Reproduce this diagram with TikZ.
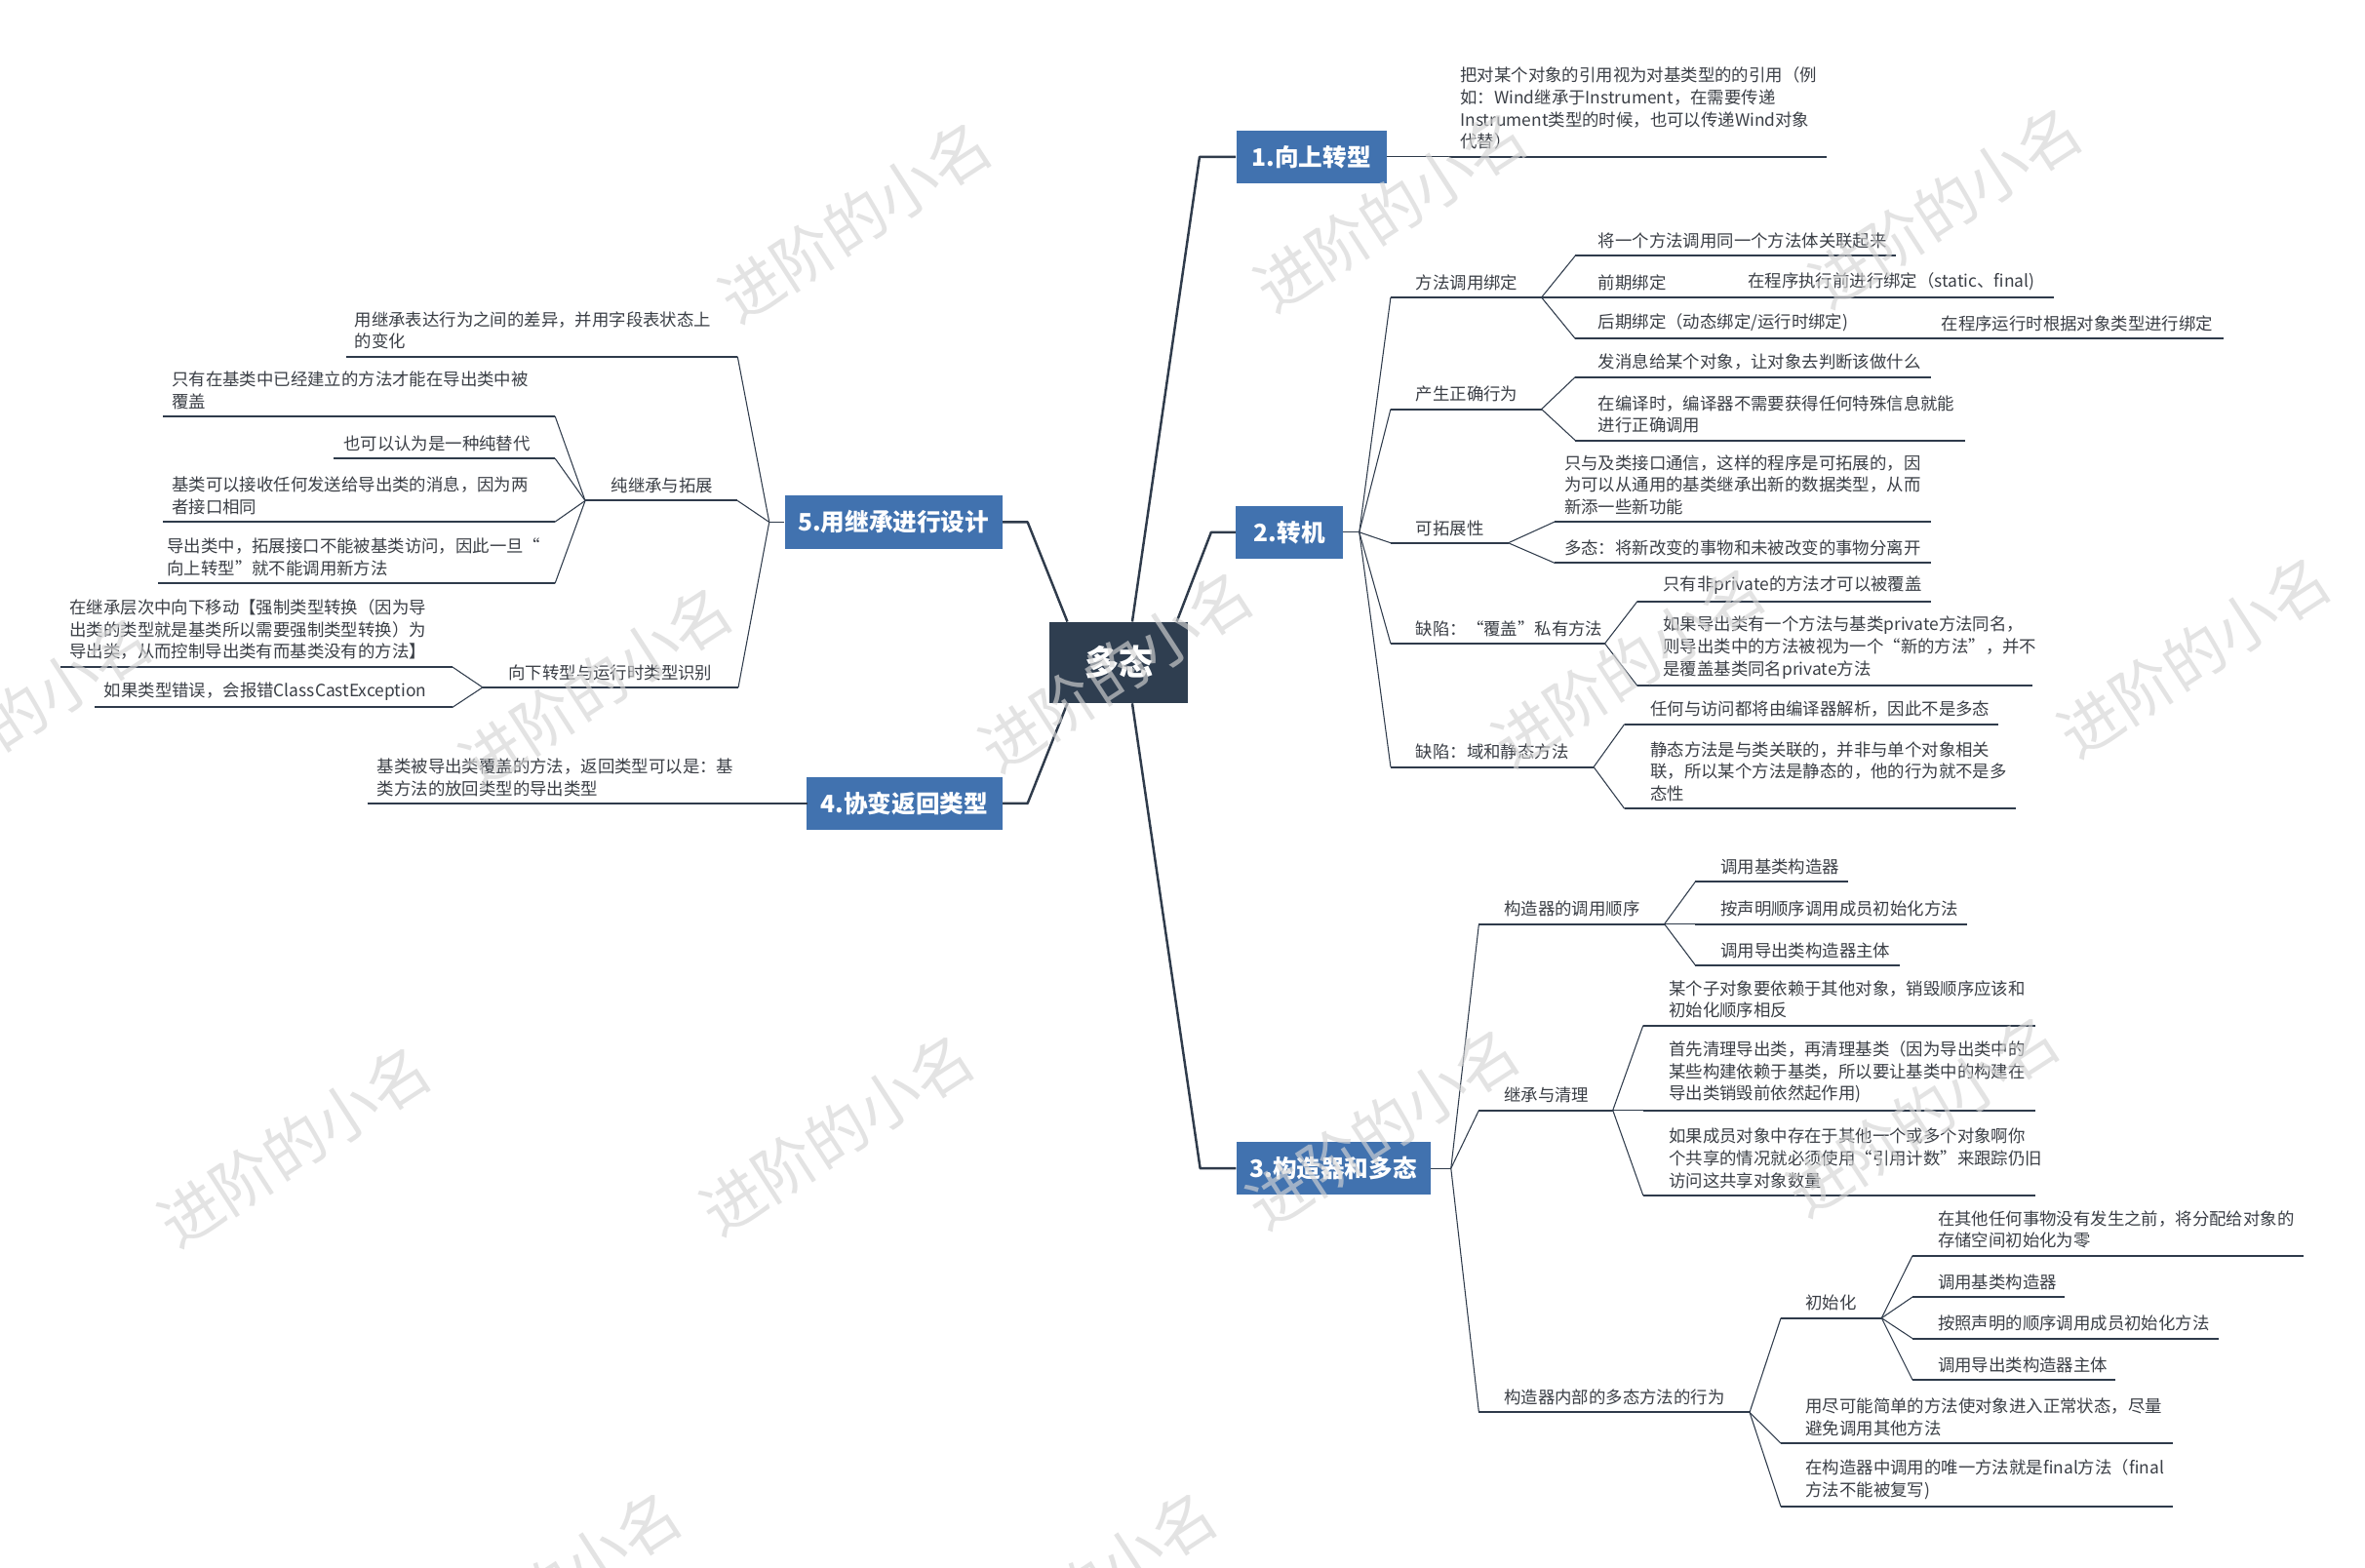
\documentclass[tikz,border=0pt]{standalone}
\usepackage{fontspec}
\setmainfont{Noto Sans CJK SC}
\usetikzlibrary{calc}
\definecolor{lnc}{HTML}{2F3B4B}
\definecolor{txc}{HTML}{3B3F46}
\definecolor{bluebox}{HTML}{4172AF}
\definecolor{darkbox}{HTML}{2F3E50}
\definecolor{wmc}{HTML}{D4D4D4}
\newcommand\mmleaf[6]{%
  \coordinate (#1s) at (#2,#4);
  \coordinate (#1e) at (#3,#4);
  \node[leaftext] (#1) at (#5,#4-4.5) {#6};
  \draw[uline] (#1s) -- (#1e);}
\tikzset{
  mainline/.style={draw=lnc, line width=1.4pt, line join=round},
  subline/.style={draw=lnc, line width=0.6pt, line join=round},
  uline/.style={draw=lnc, line width=1.1pt},
  leaftext/.style={font=\fontsize{9.9}{12.9}\selectfont, text=txc, align=left, inner sep=0pt, anchor=south west},
  rootbox/.style={fill=darkbox, text=white, font=\fontsize{20}{24}\selectfont\bfseries, inner sep=0pt, minimum width=2.846cm, minimum height=1.661cm},
  topicbox/.style={fill=bluebox, text=white, font=\fontsize{14}{16}\selectfont\bfseries, inner sep=0pt, minimum height=1.083cm},
  wm/.style={text=wmc, opacity=0.65, font=\fontsize{36}{36}\selectfont, rotate=33, inner sep=0pt}
}
\begin{document}
\begin{tikzpicture}[x=0.030932cm, y=-0.030932cm]
\fill[white] (0,0) rectangle (1568,1039.7);
\useasboundingbox (0,0) rectangle (1568,1039.7);

% root and main topics
\node[rootbox] (root) at (741.8,439.3) {多态};
\node[topicbox, minimum width=3.087cm] (b1) at (869.5,104) {1.向上转型};
\node[topicbox, minimum width=2.193cm] (b2) at (855,352.9) {2.转机};
\node[topicbox, minimum width=3.978cm] (b3) at (884,774.7) {3.构造器和多态};
\node[topicbox, minimum width=4.018cm] (b4) at (599.6,532.7) {4.协变返回类型};
\node[topicbox, minimum width=4.467cm] (b5) at (592.4,346.2) {5.用继承进行设计};

\coordinate (e1) at (795.3,104);
\coordinate (e2) at (803,352.9);
\coordinate (e3) at (795.7,774.7);
\coordinate (e4) at (681.3,532.7);
\coordinate (e5) at (681.3,346.2);
\draw[mainline] ($(root.north west)!0.596!(root.north east)$) -- (e1) -- (b1.west);
\draw[mainline] ($(root.north west)!0.915!(root.north east)$) -- (e2) -- (b2.west);
\draw[mainline] ($(root.south west)!0.596!(root.south east)$) -- (e3) -- (b3.west);
\draw[mainline] ($(root.south west)!0.131!(root.south east)$) -- (e4) -- (b4.east);
\draw[mainline] ($(root.north west)!0.131!(root.north east)$) -- (e5) -- (b5.east);

% ---------- branch 1
\mmleaf{r1}{961}{1211}{104}{968}{把对某个对象的引用视为对基类型的的引用（例\\如：Wind继承于Instrument，在需要传递\\Instrument类型的时候，也可以传递Wind对象\\代替）}
\draw[subline] (b1.east) -- (r1s);

% ---------- branch 2
\coordinate (a2) at (901.2,352.9);
\draw[subline] (b2.east) -- (a2);
\mmleaf{t21}{922}{1022}{197.2}{938.6}{方法调用绑定}
\mmleaf{t22}{922}{1022}{271.3}{938.6}{产生正确行为}
\mmleaf{t23}{922}{1000}{360}{938.6}{可拓展性}
\mmleaf{t24}{922}{1064}{426.7}{938.6}{缺陷：“覆盖”私有方法}
\mmleaf{t25}{922}{1056.6}{508.6}{938.6}{缺陷：域和静态方法}
\foreach \n in {t21,t22,t23,t24,t25} \draw[subline] (a2) -- (\n s);

\mmleaf{l211}{1044.4}{1257}{169.6}{1059.5}{将一个方法调用同一个方法体关联起来}
\mmleaf{l212}{1044.4}{1152}{197.2}{1059.5}{前期绑定}
\mmleaf{l2121}{1152}{1361.7}{197.2}{1158.7}{在程序执行前进行绑定（static、final)}
\mmleaf{l213}{1044.4}{1282}{224.6}{1059.5}{后期绑定（动态绑定/运行时绑定)}
\mmleaf{l2131}{1282}{1474}{224.6}{1287}{在程序运行时根据对象类型进行绑定}
\foreach \n in {l211,l212,l213} \draw[subline] (t21e) -- (\n s);

\mmleaf{l221}{1044.4}{1280}{250}{1059.5}{发消息给某个对象，让对象去判断该做什么}
\mmleaf{l222}{1044.4}{1303}{292}{1059.5}{在编译时，编译器不需要获得任何特殊信息就能\\进行正确调用}
\foreach \n in {l221,l222} \draw[subline] (t22e) -- (\n s);

\mmleaf{l231}{1030.7}{1280}{346}{1037}{只与及类接口通信，这样的程序是可拓展的，因\\为可以从通用的基类继承出新的数据类型，从而\\新添一些新功能}
\mmleaf{l232}{1030.7}{1280}{373.3}{1037}{多态：将新改变的事物和未被改变的事物分离开}
\foreach \n in {l231,l232} \draw[subline] (t23e) -- (\n s);

\mmleaf{l241}{1085.6}{1280}{398.7}{1102.5}{只有非private的方法才可以被覆盖}
\mmleaf{l242}{1085.6}{1347.6}{454.8}{1102.5}{如果导出类有一个方法与基类private方法同名，\\则导出类中的方法被视为一个“新的方法”，并不\\是覆盖基类同名private方法}
\foreach \n in {l241,l242} \draw[subline] (t24e) -- (\n s);

\mmleaf{l251}{1077}{1325}{480.2}{1094}{任何与访问都将由编译器解析，因此不是多态}
\mmleaf{l252}{1077}{1336.6}{536.2}{1094}{静态方法是与类关联的，并非与单个对象相关\\联，所以某个方法是静态的，他的行为就不是多\\态性}
\foreach \n in {l251,l252} \draw[subline] (t25e) -- (\n s);

% ---------- branch 3
\coordinate (a3) at (962,774.7);
\draw[subline] (b3.east) -- (a3);
\mmleaf{t31}{980.5}{1103.5}{612.7}{997}{构造器的调用顺序}
\mmleaf{t32}{980.5}{1069.3}{736.2}{997}{继承与清理}
\mmleaf{t33}{980.5}{1160}{936.5}{997}{构造器内部的多态方法的行为}
\foreach \n in {t31,t32,t33} \draw[subline] (a3) -- (\n s);

\mmleaf{l311}{1124}{1225}{584.7}{1140.6}{调用基类构造器}
\mmleaf{l312}{1124}{1304}{612.7}{1140.6}{按声明顺序调用成员初始化方法}
\mmleaf{l313}{1124}{1259.4}{640}{1140.6}{调用导出类构造器主体}
\foreach \n in {l311,l312,l313} \draw[subline] (t31e) -- (\n s);

\mmleaf{l321}{1089.4}{1349.2}{680}{1106.3}{某个子对象要依赖于其他对象，销毁顺序应该和\\初始化顺序相反}
\mmleaf{l322}{1089.4}{1349.2}{736.2}{1106.3}{首先清理导出类，再清理基类（因为导出类中的\\某些构建依赖于基类，所以要让基类中的构建在\\导出类销毁前依然起作用)}
\mmleaf{l323}{1089.4}{1349.2}{792.7}{1106.3}{如果成员对象中存在于其他一个或多个对象啊你\\个共享的情况就必须使用“引用计数”来跟踪仍旧\\访问这共享对象数量}
\foreach \n in {l321,l322,l323} \draw[subline] (t32e) -- (\n s);

\mmleaf{t331}{1180.7}{1247.5}{874}{1197}{初始化}
\mmleaf{l332}{1180.7}{1440.6}{957}{1197}{用尽可能简单的方法使对象进入正常状态，尽量\\避免调用其他方法}
\mmleaf{l333}{1180.7}{1440.6}{999}{1197}{在构造器中调用的唯一方法就是final方法（final\\方法不能被复写)}
\foreach \n in {t331,l332,l333} \draw[subline] (t33e) -- (\n s);

\mmleaf{l3311}{1268}{1527.3}{832.6}{1284.6}{在其他任何事物没有发生之前，将分配给对象的\\存储空间初始化为零}
\mmleaf{l3312}{1268}{1368.8}{860}{1284.6}{调用基类构造器}
\mmleaf{l3313}{1268}{1471}{887.5}{1284.6}{按照声明的顺序调用成员初始化方法}
\mmleaf{l3314}{1268}{1402.3}{915}{1284.6}{调用导出类构造器主体}
\foreach \n in {l3311,l3312,l3313,l3314} \draw[subline] (t331e) -- (\n s);

% ---------- branch 5
\coordinate (a5) at (510,346.2);
\draw[subline] (b5.west) -- (a5);
\mmleaf{t51}{229.5}{489}{236.4}{235}{用继承表达行为之间的差异，并用字段表状态上\\的变化}
\mmleaf{t52}{388}{489}{332}{405}{纯继承与拓展}
\mmleaf{t53}{320}{489.5}{455.8}{337}{向下转型与运行时类型识别}
\foreach \n in {t51,t52,t53} \draw[subline] (a5) -- (\n e);

\mmleaf{l521}{108}{368}{276}{113.8}{只有在基类中已经建立的方法才能在导出类中被\\覆盖}
\mmleaf{l522}{221}{368}{304}{227.6}{也可以认为是一种纯替代}
\mmleaf{l523}{108}{368}{346}{113.8}{基类可以接收任何发送给导出类的消息，因为两\\者接口相同}
\mmleaf{l524}{105}{368}{386.8}{110.7}{导出类中，拓展接口不能被基类访问，因此一旦“\\向上转型”就不能调用新方法}
\foreach \n in {l521,l522,l523,l524} \draw[subline] (t52s) -- (\n e);

\mmleaf{l531}{40}{300}{442.3}{46}{在继承层次中向下移动【强制类型转换（因为导\\出类的类型就是基类所以需要强制类型转换）为\\导出类，从而控制导出类有而基类没有的方法】}
\mmleaf{l532}{63}{300}{469}{68.9}{如果类型错误，会报错ClassCastException}
\foreach \n in {l531,l532} \draw[subline] (t53s) -- (\n e);

% ---------- branch 4
\mmleaf{t4}{243.6}{534.7}{532.7}{250}{基类被导出类覆盖的方法，返回类型可以是：基\\类方法的放回类型的导出类型}
\draw[uline] (t4e) -- (b4.west);

% ---------- watermarks
\foreach[count=\i] \x/\y in {567/147, 922/140, 1290/137, 10/475, 395/455, 740/445, 1080/442, 1455/435, 195/760, 555/752, 917/748, 1275/740, 361/1055, 716/1055}
  \node[wm] (w\i) at (\x,\y) {进阶的小名};
\end{tikzpicture}
\end{document}
